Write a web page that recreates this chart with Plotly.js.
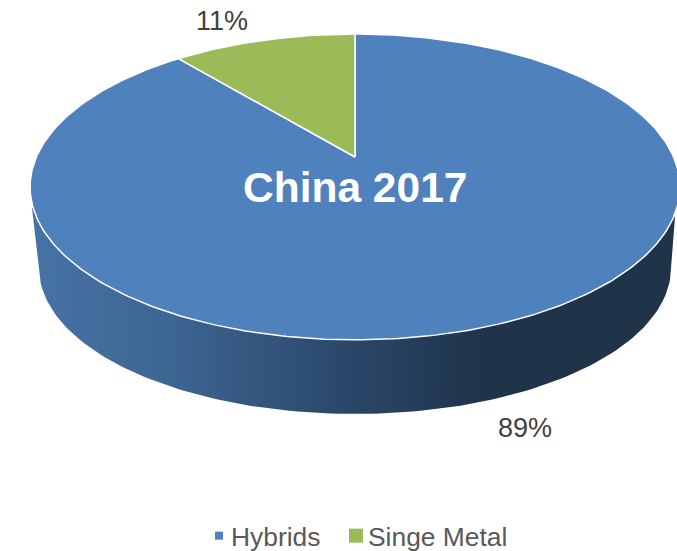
<!DOCTYPE html>
<html>
<head>
<meta charset="utf-8">
<script src="https://cdn.plot.ly/plotly-3.0.1.min.js"></script>
<style>html,body{margin:0;padding:0;background:#fff;overflow:hidden}#chart{width:677px;height:551px}</style>
</head>
<body>
<div id="chart"></div>
<script>
var categories = ["Hybrids", "Singe Metal"];
var values = [89, 11];
var sliceColors = ["#4F81BD", "#9BBB59"];
var chartTitle = "China 2017";

// Perspective projection of the unit disc on to the page (axes run in page pixels)
var cx = 355, apexY = 157, K = 147, KX = 318.6, P = 0.196;
function project(frac) {
  var a = frac * 2 * Math.PI, u = Math.sin(a), v = Math.cos(a), w = 1 + P * v;
  return [cx + KX * u / w, apexY - K * v / w];
}
var total = values.reduce(function (s, v) { return s + v; }, 0);
var traces = [];

// Extruded side, bottom rim drawn from an ellipse, filled with a horizontal gradient
var sx = [32], sy = [208];
for (var i = 0; i <= 120; i++) {
  var t = Math.PI * i / 120;
  sx.push(cx - 316 * Math.cos(t));
  sy.push(268 + 146 * Math.sin(t));
}
sx.push(675, 355); sy.push(217, 200);
traces.push({
  x: sx, y: sy, mode: "lines", fill: "toself", showlegend: false, hoverinfo: "skip",
  line: { width: 0, color: "rgba(0,0,0,0)" },
  fillgradient: {
    type: "horizontal", start: 30, stop: 677,
    colorscale: [[0, "#4673A6"], [0.22, "#3D6592"], [0.48, "#2B486B"], [0.7, "#1F3349"], [1, "#1F3349"]]
  }
});

// Top face slices, clockwise from twelve o'clock
var cum = 0;
values.forEach(function (val, idx) {
  var xs = [cx], ys = [apexY], n = Math.max(4, Math.round(val * 4));
  for (var j = 0; j <= n; j++) {
    var p = project((cum + val * j / n) / total);
    xs.push(p[0]); ys.push(p[1]);
  }
  xs.push(cx); ys.push(apexY);
  traces.push({
    x: xs, y: ys, mode: "lines", fill: "toself", fillcolor: sliceColors[idx],
    line: { color: "#FFFFFF", width: 1.5 }, showlegend: false,
    name: categories[idx], hoverinfo: "name"
  });
  cum += val;
});

// Legend entries
categories.forEach(function (c, idx) {
  traces.push({
    x: [null], y: [null], mode: "markers", name: c, showlegend: true,
    marker: { color: sliceColors[idx], symbol: "square", size: idx === 0 ? 8 : 14 }
  });
});

var labelPos = [[525, 428], [222, 21]];
var annotations = values.map(function (v, idx) {
  return {
    x: labelPos[idx][0], y: labelPos[idx][1], xref: "x", yref: "y", showarrow: false,
    text: Math.round(100 * v / total) + "%",
    font: { family: "Liberation Sans, Arial, sans-serif", size: 27, color: "#404040" }
  };
});
annotations.push({
  x: 355, y: 187, xref: "x", yref: "y", showarrow: false, text: "<b>" + chartTitle + "</b>",
  font: { family: "Liberation Sans, Arial, sans-serif", size: 42.5, color: "#FFFFFF" }
});

var layout = {
  width: 677, height: 551, margin: { l: 0, r: 0, t: 0, b: 0 },
  paper_bgcolor: "#FFFFFF", plot_bgcolor: "#FFFFFF",
  xaxis: { range: [0, 677], visible: false, fixedrange: true },
  yaxis: { range: [551, 0], visible: false, fixedrange: true },
  showlegend: true,
  legend: {
    orientation: "h", x: 191 / 677, xref: "paper", y: 0, yanchor: "bottom",
    font: { family: "Liberation Sans, Arial, sans-serif", size: 26.4, color: "#595959" },
    itemwidth: 30, entrywidth: 92, entrywidthmode: "pixels", itemclick: false, itemdoubleclick: false,
    bgcolor: "rgba(0,0,0,0)"
  },
  annotations: annotations
};
Plotly.newPlot("chart", traces, layout, { displayModeBar: false, staticPlot: true }).then(function () {
  // Nudge the legend to the reference's position: symbols closer to their text, group lower on the page
  document.querySelectorAll(".legendsymbols").forEach(function (g) { g.setAttribute("transform", "translate(8,0)"); });
  var lg = document.querySelector(".legend");
  var m = /translate\(([-\d.]+)[ ,]+([-\d.]+)\)/.exec(lg.getAttribute("transform"));
  lg.setAttribute("transform", "translate(" + m[1] + "," + (parseFloat(m[2]) + 9) + ")");
  var sb = lg.querySelector(".scrollbox");
  if (sb) { sb.removeAttribute("clip-path"); sb.style.clipPath = "none"; }
});
</script>
</body>
</html>
